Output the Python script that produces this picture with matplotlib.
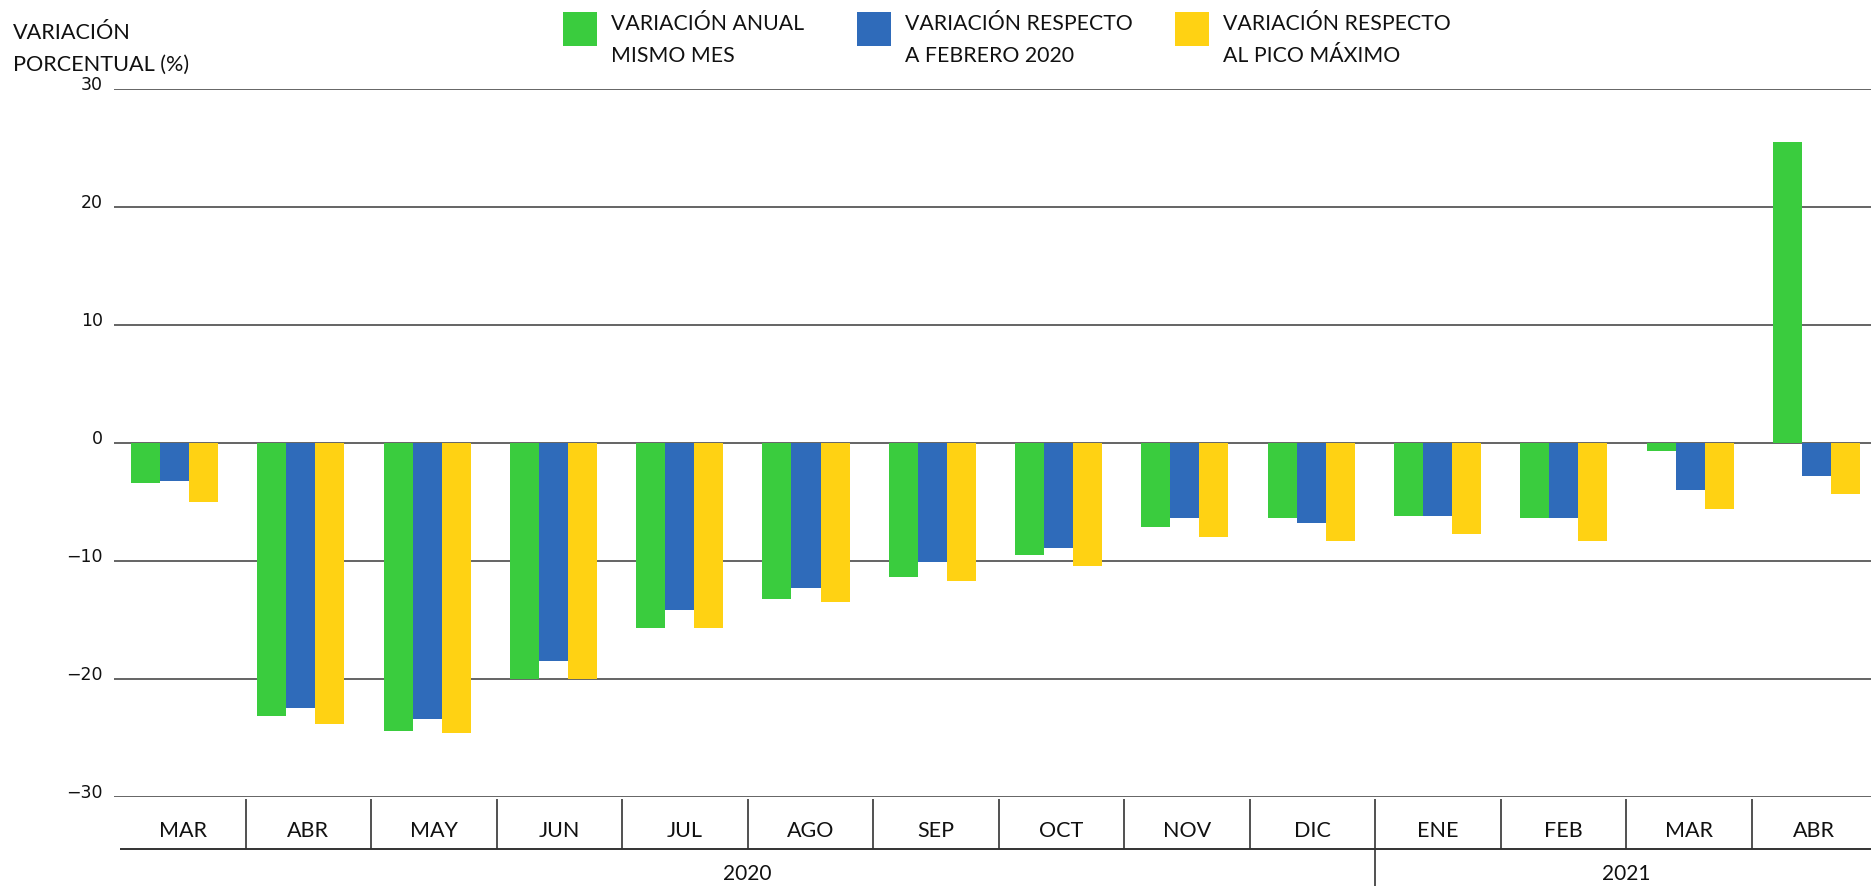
import matplotlib
matplotlib.use("Agg")
import matplotlib.pyplot as plt
from matplotlib.patches import Rectangle
from matplotlib.transforms import ScaledTranslation
import numpy as np

plt.rcParams['font.family'] = ['Lato', 'DejaVu Sans']

# ---------------- data ----------------
months = ["MAR", "ABR", "MAY", "JUN", "JUL", "AGO", "SEP", "OCT", "NOV", "DIC",
          "ENE", "FEB", "MAR", "ABR"]
years = ["2020", "2021"]
year_counts = [10, 4]

anual_mismo_mes = [-3.4, -23.1, -24.4, -20.0, -15.7, -13.2, -11.4, -9.5, -7.1, -6.4,
                   -6.2, -6.4, -0.7, 25.5]
resp_feb_2020 = [-3.2, -22.5, -23.4, -18.5, -14.2, -12.3, -10.1, -8.9, -6.4, -6.8,
                 -6.2, -6.4, -4.0, -2.8]
resp_pico_max = [-5.0, -23.8, -24.6, -20.0, -15.7, -13.5, -11.7, -10.4, -8.0, -8.3,
                 -7.7, -8.3, -5.6, -4.3]

series = [anual_mismo_mes, resp_feb_2020, resp_pico_max]
series_labels = [["VARIACIÓN ANUAL", "MISMO MES"],
                 ["VARIACIÓN RESPECTO", "A FEBRERO 2020"],
                 ["VARIACIÓN RESPECTO", "AL PICO MÁXIMO"]]
colors = ["#3ACC3E", "#2F6BBA", "#FFD213"]

yticks = [-30, -20, -10, 0, 10, 20, 30]
ylabel_lines = ["VARIACIÓN", "PORCENTUAL (%)"]

# ---------------- figure ----------------
W, H = 1871, 886
fig = plt.figure(figsize=(W / 100, H / 100), dpi=100)

def fx(px):
    return px / W

def fy(py_top):
    return 1 - py_top / H

# main bar axes
ax_left, ax_right = 114, 1871
ax_top, ax_bot = 88.5, 797
ax = fig.add_axes([fx(ax_left), fy(ax_bot), fx(ax_right - ax_left), (ax_bot - ax_top) / H])
ax.set_ylim(-30, 30)
first_center, spacing = 174.5, 126.3
ax.set_xlim((ax_left - first_center) / spacing, (ax_right - first_center) / spacing)

x = np.arange(len(months))
bw = 0.23
for k, (vals, col) in enumerate(zip(series, colors)):
    ax.bar(x + (k - 1) * bw, vals, width=bw, color=col, zorder=3, linewidth=0)

for t in yticks:
    ax.axhline(t, color="#4a4a4a", lw=1.2, zorder=1)

for s in ax.spines.values():
    s.set_visible(False)
ax.set_xticks([])
ax.set_yticks(yticks)
ax.set_yticklabels([f"{t}".replace("-", "\u2212") for t in yticks])
ax.tick_params(axis="y", length=0, pad=8, labelsize=12.5, labelcolor="#111111")
off = ScaledTranslation(0, 6 / 100, fig.dpi_scale_trans)
for lab in ax.get_yticklabels():
    lab.set_transform(lab.get_transform() + off)
    lab.set_family(["DejaVu Sans"])

# category table axes
cat_w = 125.5
tab_left = 120
tab = fig.add_axes([fx(tab_left), 0, fx(cat_w * len(months)), (H - ax_bot) / H])
tab.set_xlim(0, len(months))
tab.set_ylim(0, H - ax_bot)
tab.axis("off")

def ty(py_top):
    return H - py_top

line_col = "#333333"
for i in range(1, len(months)):
    tab.plot([i, i], [ty(799), ty(849)], color=line_col, lw=1.2, solid_capstyle="butt")
tab.plot([0, len(months)], [ty(849), ty(849)], color=line_col, lw=1.4)
for i, m in enumerate(months):
    tab.text(i + 0.5, ty(831), m, ha="center", va="center", fontsize=15.5, color="#111111")

start = 0
for yr, n in zip(years, year_counts):
    tab.text(start + n / 2, ty(874), yr, ha="center", va="center", fontsize=15, color="#111111")
    start += n
    if start < len(months):
        tab.plot([start, start], [ty(849), 0], color=line_col, lw=1.2, solid_capstyle="butt")

# y axis title
fig.text(fx(13), fy(39), ylabel_lines[0], ha="left", va="baseline", fontsize=15.6, color="#111111")
fig.text(fx(13), fy(71), ylabel_lines[1], ha="left", va="baseline", fontsize=15.6, color="#111111")

# legend
sq_x = [563, 857, 1175]
for sx, col, labs in zip(sq_x, colors, series_labels):
    fig.add_artist(Rectangle((fx(sx), fy(46)), fx(34), 34 / H, transform=fig.transFigure,
                             facecolor=col, edgecolor="none"))
    fig.text(fx(sx + 48), fy(30), labs[0], ha="left", va="baseline", fontsize=15.3, color="#111111")
    fig.text(fx(sx + 48), fy(62), labs[1], ha="left", va="baseline", fontsize=15.3, color="#111111")

fig.savefig("out.png", dpi=100)
